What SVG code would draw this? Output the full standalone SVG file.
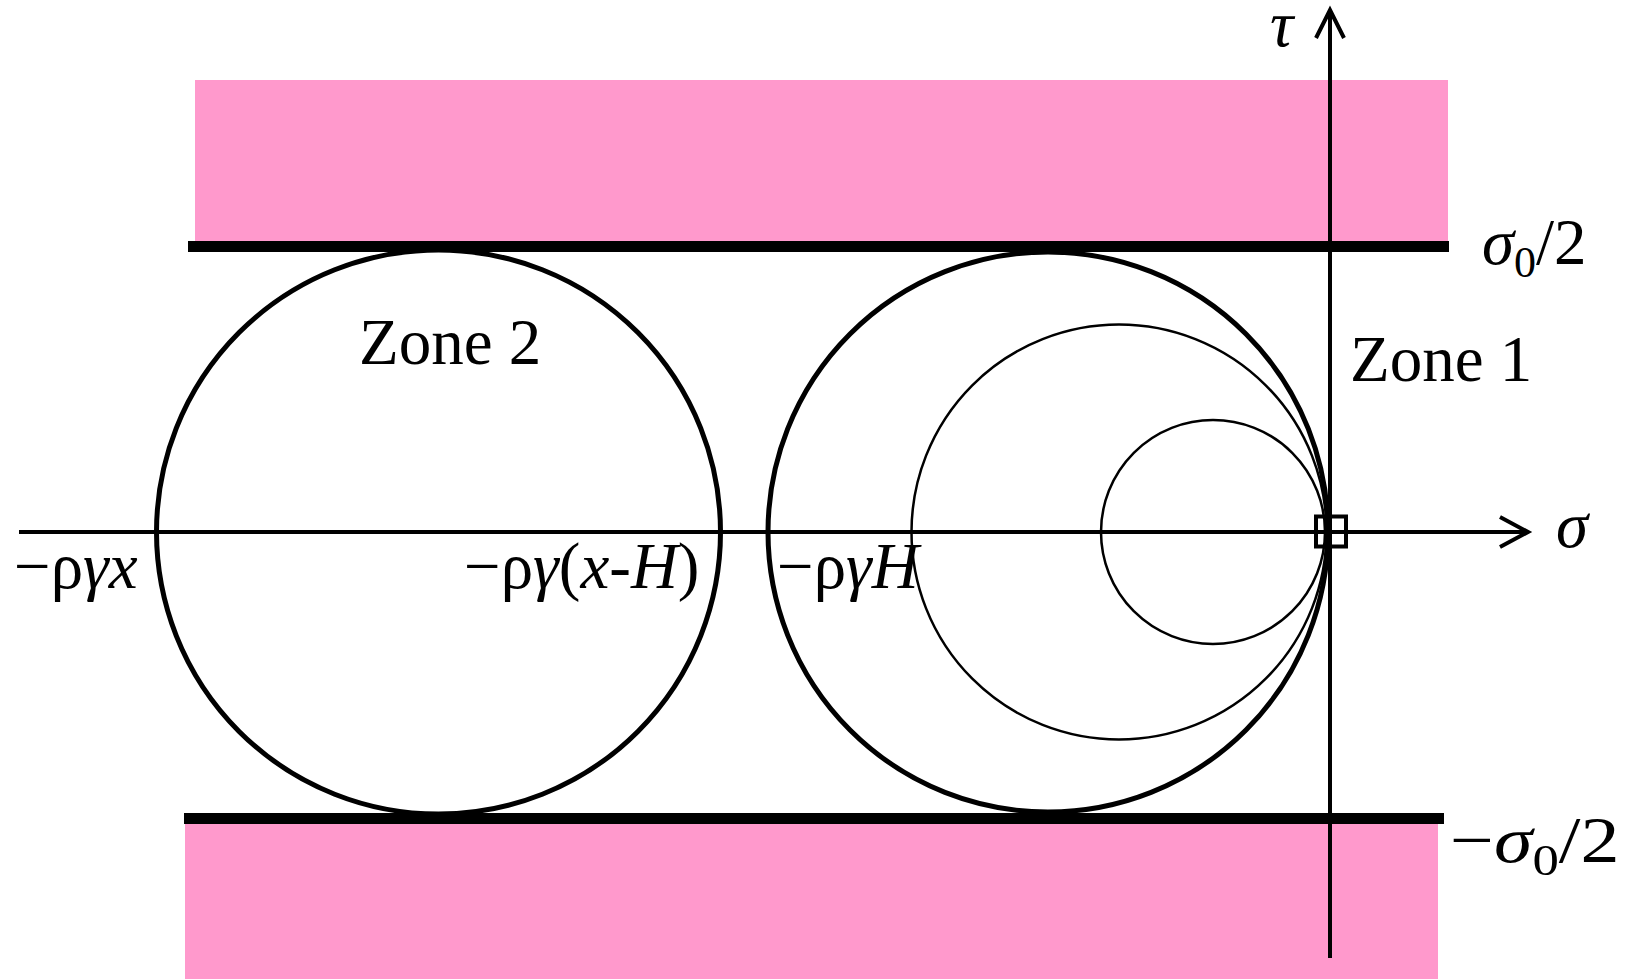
<svg xmlns="http://www.w3.org/2000/svg" width="1630" height="979" viewBox="0 0 1630 979">
<style>
.pink{fill:#FF99CC;stroke:none}
.bar{stroke:#000;stroke-width:11;fill:none}
.big{fill:none;stroke:#000;stroke-width:5}
.thin{fill:none;stroke:#000;stroke-width:2.5}
.ax{stroke:#000;stroke-width:4;fill:none}
.lbl{font-family:"Liberation Serif","Times New Roman",serif;font-size:65px;fill:#000}
.it{font-style:italic}
</style>
<rect width="1630" height="979" fill="#fff"/>
<g id="bands">
<rect class="pink" x="195" y="80" width="1253" height="161"/>
<rect class="pink" x="185" y="823" width="1253" height="156"/>
<line class="bar" x1="188" y1="246.5" x2="1449" y2="246.5"/>
<line class="bar" x1="184" y1="818.5" x2="1444" y2="818.5"/>
</g>
<g id="circles">
<circle id="circle-zone2" class="big" cx="438.5" cy="532" r="282"/>
<circle id="circle-zone1-big" class="big" cx="1048" cy="532" r="280"/>
<circle id="circle-mid" class="thin" cx="1119" cy="532" r="207.5"/>
<circle id="circle-small" class="thin" cx="1213" cy="532" r="112"/>
</g>
<g id="connectors">
<line class="ax" x1="19" y1="532" x2="1527" y2="532"/>
<polyline class="ax" points="1500,517 1528,532 1500,547"/>
<line class="ax" x1="1330" y1="958" x2="1330" y2="11"/>
<polyline class="ax" points="1316,38 1330,10 1344,38"/>
</g>
<g id="origin">
<rect x="1316" y="516.5" width="30" height="30" fill="none" stroke="#000" stroke-width="4"/>
</g>
<g id="labels">
<text class="lbl" x="359" y="364">Zone 2</text>
<text class="lbl" x="1350" y="381">Zone 1</text>
<text class="lbl" x="14" y="588">−ρ<tspan class="it">γx</tspan></text>
<text class="lbl" x="464" y="588">−ρ<tspan class="it">γ</tspan>(<tspan class="it">x</tspan>-<tspan class="it">H</tspan>)</text>
<text class="lbl" x="777" y="588">−ρ<tspan class="it">γH</tspan></text>
<text class="lbl it" x="1270" y="46">τ</text>
<text class="lbl it" x="1556" y="547">σ</text>
<text class="lbl" x="1482" y="264"><tspan class="it">σ</tspan><tspan font-size="44" dy="13">0</tspan><tspan dy="-13">/2</tspan></text>
<text class="lbl" transform="translate(1450,862) scale(1.2,1)" x="0" y="0">−<tspan class="it">σ</tspan><tspan font-size="44" dy="13">0</tspan><tspan dy="-13">/2</tspan></text>
</g>
</svg>
